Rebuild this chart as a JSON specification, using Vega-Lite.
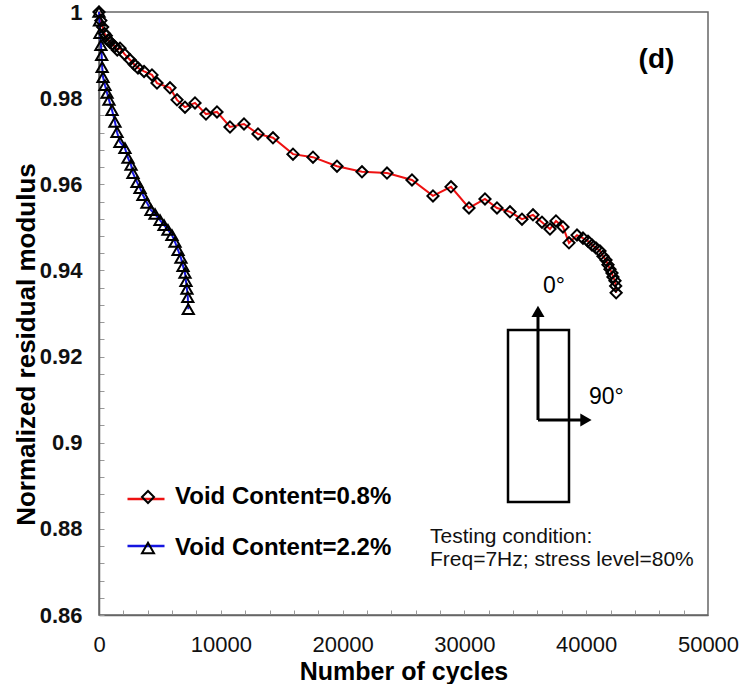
{
  "$schema": "https://vega.github.io/schema/vega-lite/v6.json",
  "width": 609,
  "height": 603,
  "autosize": "none",
  "padding": {"left": 99, "top": 12, "right": 42, "bottom": 69},
  "background": "white",
  "config": {
    "font": "Liberation Sans",
    "view": {"stroke": "#666", "strokeWidth": 1.5}
  },
  "datasets": {
    "curves": [
      {"series": "Void Content=0.8%", "cycles": 0, "modulus": 1.0},
      {"series": "Void Content=0.8%", "cycles": 150, "modulus": 0.998},
      {"series": "Void Content=0.8%", "cycles": 300, "modulus": 0.9965},
      {"series": "Void Content=0.8%", "cycles": 450, "modulus": 0.995},
      {"series": "Void Content=0.8%", "cycles": 600, "modulus": 0.9945},
      {"series": "Void Content=0.8%", "cycles": 750, "modulus": 0.9935},
      {"series": "Void Content=0.8%", "cycles": 900, "modulus": 0.993},
      {"series": "Void Content=0.8%", "cycles": 1100, "modulus": 0.9925},
      {"series": "Void Content=0.8%", "cycles": 1300, "modulus": 0.992},
      {"series": "Void Content=0.8%", "cycles": 1500, "modulus": 0.9912},
      {"series": "Void Content=0.8%", "cycles": 1724, "modulus": 0.9916},
      {"series": "Void Content=0.8%", "cycles": 2100, "modulus": 0.9902},
      {"series": "Void Content=0.8%", "cycles": 2545, "modulus": 0.9889},
      {"series": "Void Content=0.8%", "cycles": 2900, "modulus": 0.9878},
      {"series": "Void Content=0.8%", "cycles": 3202, "modulus": 0.987},
      {"series": "Void Content=0.8%", "cycles": 3700, "modulus": 0.9862},
      {"series": "Void Content=0.8%", "cycles": 4351, "modulus": 0.9854},
      {"series": "Void Content=0.8%", "cycles": 4762, "modulus": 0.9835},
      {"series": "Void Content=0.8%", "cycles": 5829, "modulus": 0.9824},
      {"series": "Void Content=0.8%", "cycles": 6404, "modulus": 0.9796},
      {"series": "Void Content=0.8%", "cycles": 7061, "modulus": 0.9779},
      {"series": "Void Content=0.8%", "cycles": 7882, "modulus": 0.9789},
      {"series": "Void Content=0.8%", "cycles": 8785, "modulus": 0.9763},
      {"series": "Void Content=0.8%", "cycles": 9688, "modulus": 0.9768},
      {"series": "Void Content=0.8%", "cycles": 10755, "modulus": 0.9733},
      {"series": "Void Content=0.8%", "cycles": 11905, "modulus": 0.974},
      {"series": "Void Content=0.8%", "cycles": 13054, "modulus": 0.9717},
      {"series": "Void Content=0.8%", "cycles": 14285, "modulus": 0.9708},
      {"series": "Void Content=0.8%", "cycles": 15927, "modulus": 0.967},
      {"series": "Void Content=0.8%", "cycles": 17569, "modulus": 0.9663},
      {"series": "Void Content=0.8%", "cycles": 19540, "modulus": 0.9642},
      {"series": "Void Content=0.8%", "cycles": 21592, "modulus": 0.9629},
      {"series": "Void Content=0.8%", "cycles": 23645, "modulus": 0.9626},
      {"series": "Void Content=0.8%", "cycles": 25697, "modulus": 0.961},
      {"series": "Void Content=0.8%", "cycles": 27421, "modulus": 0.9573},
      {"series": "Void Content=0.8%", "cycles": 28899, "modulus": 0.9594},
      {"series": "Void Content=0.8%", "cycles": 30377, "modulus": 0.9545},
      {"series": "Void Content=0.8%", "cycles": 31691, "modulus": 0.9566},
      {"series": "Void Content=0.8%", "cycles": 32676, "modulus": 0.9545},
      {"series": "Void Content=0.8%", "cycles": 33743, "modulus": 0.9536},
      {"series": "Void Content=0.8%", "cycles": 34728, "modulus": 0.9519},
      {"series": "Void Content=0.8%", "cycles": 35631, "modulus": 0.9529},
      {"series": "Void Content=0.8%", "cycles": 36370, "modulus": 0.9512},
      {"series": "Void Content=0.8%", "cycles": 37027, "modulus": 0.9496},
      {"series": "Void Content=0.8%", "cycles": 37520, "modulus": 0.9515},
      {"series": "Void Content=0.8%", "cycles": 38094, "modulus": 0.9501},
      {"series": "Void Content=0.8%", "cycles": 38587, "modulus": 0.9464},
      {"series": "Void Content=0.8%", "cycles": 39244, "modulus": 0.9482},
      {"series": "Void Content=0.8%", "cycles": 39736, "modulus": 0.9475},
      {"series": "Void Content=0.8%", "cycles": 40147, "modulus": 0.9468},
      {"series": "Void Content=0.8%", "cycles": 40475, "modulus": 0.9459},
      {"series": "Void Content=0.8%", "cycles": 40804, "modulus": 0.9452},
      {"series": "Void Content=0.8%", "cycles": 41132, "modulus": 0.9445},
      {"series": "Void Content=0.8%", "cycles": 41378, "modulus": 0.9433},
      {"series": "Void Content=0.8%", "cycles": 41625, "modulus": 0.9424},
      {"series": "Void Content=0.8%", "cycles": 41789, "modulus": 0.9413},
      {"series": "Void Content=0.8%", "cycles": 41953, "modulus": 0.9403},
      {"series": "Void Content=0.8%", "cycles": 42117, "modulus": 0.9394},
      {"series": "Void Content=0.8%", "cycles": 42199, "modulus": 0.9385},
      {"series": "Void Content=0.8%", "cycles": 42364, "modulus": 0.9376},
      {"series": "Void Content=0.8%", "cycles": 42420, "modulus": 0.9364},
      {"series": "Void Content=0.8%", "cycles": 42460, "modulus": 0.9348},
      {"series": "Void Content=2.2%", "cycles": 0, "modulus": 1.0},
      {"series": "Void Content=2.2%", "cycles": 40, "modulus": 0.998},
      {"series": "Void Content=2.2%", "cycles": 82, "modulus": 0.9951},
      {"series": "Void Content=2.2%", "cycles": 160, "modulus": 0.9923},
      {"series": "Void Content=2.2%", "cycles": 220, "modulus": 0.99},
      {"series": "Void Content=2.2%", "cycles": 260, "modulus": 0.9872},
      {"series": "Void Content=2.2%", "cycles": 330, "modulus": 0.9849},
      {"series": "Void Content=2.2%", "cycles": 490, "modulus": 0.983},
      {"series": "Void Content=2.2%", "cycles": 660, "modulus": 0.9812},
      {"series": "Void Content=2.2%", "cycles": 820, "modulus": 0.9796},
      {"series": "Void Content=2.2%", "cycles": 1070, "modulus": 0.9772},
      {"series": "Void Content=2.2%", "cycles": 1310, "modulus": 0.9745},
      {"series": "Void Content=2.2%", "cycles": 1480, "modulus": 0.9721},
      {"series": "Void Content=2.2%", "cycles": 1720, "modulus": 0.9698},
      {"series": "Void Content=2.2%", "cycles": 2130, "modulus": 0.9684},
      {"series": "Void Content=2.2%", "cycles": 2380, "modulus": 0.9661},
      {"series": "Void Content=2.2%", "cycles": 2630, "modulus": 0.9645},
      {"series": "Void Content=2.2%", "cycles": 2790, "modulus": 0.9626},
      {"series": "Void Content=2.2%", "cycles": 3120, "modulus": 0.9605},
      {"series": "Void Content=2.2%", "cycles": 3370, "modulus": 0.9591},
      {"series": "Void Content=2.2%", "cycles": 3610, "modulus": 0.9575},
      {"series": "Void Content=2.2%", "cycles": 3940, "modulus": 0.9557},
      {"series": "Void Content=2.2%", "cycles": 4270, "modulus": 0.954},
      {"series": "Void Content=2.2%", "cycles": 4600, "modulus": 0.9531},
      {"series": "Void Content=2.2%", "cycles": 5010, "modulus": 0.9517},
      {"series": "Void Content=2.2%", "cycles": 5340, "modulus": 0.9505},
      {"series": "Void Content=2.2%", "cycles": 5660, "modulus": 0.9494},
      {"series": "Void Content=2.2%", "cycles": 5990, "modulus": 0.9482},
      {"series": "Void Content=2.2%", "cycles": 6240, "modulus": 0.9466},
      {"series": "Void Content=2.2%", "cycles": 6490, "modulus": 0.9447},
      {"series": "Void Content=2.2%", "cycles": 6730, "modulus": 0.9429},
      {"series": "Void Content=2.2%", "cycles": 6900, "modulus": 0.941},
      {"series": "Void Content=2.2%", "cycles": 7060, "modulus": 0.9394},
      {"series": "Void Content=2.2%", "cycles": 7140, "modulus": 0.9375},
      {"series": "Void Content=2.2%", "cycles": 7220, "modulus": 0.9357},
      {"series": "Void Content=2.2%", "cycles": 7290, "modulus": 0.9338},
      {"series": "Void Content=2.2%", "cycles": 7330, "modulus": 0.931}
    ],
    "box": [{"cycles": 33580, "cycles_end": 38587, "modulus": 0.92617, "modulus_end": 0.88623}],
    "arrows": [
      {"cycles": 36042, "cycles_end": 36042, "modulus": 0.90527, "modulus_end": 0.9296},
      {"cycles": 36042, "cycles_end": 39650, "modulus": 0.90527, "modulus_end": 0.90527}
    ],
    "headUp": [{"cycles": 36042, "modulus": 0.9305}],
    "headRight": [{"cycles": 39980, "modulus": 0.90527}],
    "label": [{"cycles": 45771, "modulus": 0.98886, "note": "(d)"}],
    "angles": [
      {"cycles": 36452, "modulus": 0.93638, "note": "0°"},
      {"cycles": 40229, "modulus": 0.91061, "note": "90°"}
    ],
    "conditions": [
      {"cycles": 27175, "modulus": 0.8781, "note": "Testing condition:"},
      {"cycles": 27175, "modulus": 0.87277, "note": "Freq=7Hz; stress level=80%"}
    ]
  },
  "encoding": {
    "x": {
      "field": "cycles",
      "type": "quantitative",
      "scale": {"domain": [0, 50000], "nice": false, "zero": false},
      "axis": {
        "title": "Number of cycles",
        "titleFont": "Liberation Sans",
        "titleFontSize": 25,
        "titleFontWeight": "bold",
        "titleColor": "black",
        "titleBaseline": "alphabetic",
        "titleY": 64,
        "values": [0, 2000, 4000, 6000, 8000, 10000, 12000, 14000, 16000, 18000, 20000, 22000, 24000, 26000, 28000, 30000, 32000, 34000, 36000, 38000, 40000, 42000, 44000, 46000, 48000, 50000],
        "labelExpr": "datum.value % 10000 === 0 ? format(datum.value, 'd') : ''",
        "labelFont": "Liberation Sans",
        "labelFontSize": 22,
        "labelFontWeight": "normal",
        "labelColor": "#111",
        "labelFlush": false,
        "labelOverlap": false,
        "labelBaseline": "top",
        "labelPadding": 24,
        "tickSize": -5,
        "tickColor": "#999",
        "tickWidth": 1,
        "domainColor": "#666",
        "domainWidth": 1.5,
        "grid": false
      }
    },
    "y": {
      "field": "modulus",
      "type": "quantitative",
      "scale": {"domain": [0.86, 1.0], "nice": false, "zero": false},
      "axis": {
        "title": "Normalized  residual modulus",
        "titleFont": "Liberation Sans",
        "titleFontSize": 26,
        "titleFontWeight": "bold",
        "titleColor": "black",
        "titleAngle": -90,
        "titleAlign": "center",
        "titleBaseline": "middle",
        "titleX": -73,
        "titleY": 332,
        "values": [0.86, 0.864, 0.868, 0.872, 0.876, 0.88, 0.884, 0.888, 0.892, 0.896, 0.9, 0.904, 0.908, 0.912, 0.916, 0.92, 0.924, 0.928, 0.932, 0.936, 0.94, 0.944, 0.948, 0.952, 0.956, 0.96, 0.964, 0.968, 0.972, 0.976, 0.98, 0.984, 0.988, 0.992, 0.996, 1.0],
        "labelExpr": "abs(datum.value * 50 - round(datum.value * 50)) < 0.001 ? format(datum.value, '.2~f') : ''",
        "labelFont": "Liberation Sans",
        "labelFontSize": 22,
        "labelFontWeight": "bold",
        "labelColor": "#111",
        "labelFlush": false,
        "labelOverlap": false,
        "labelPadding": 22,
        "tickSize": -5,
        "tickColor": "#999",
        "tickWidth": 1,
        "domainColor": "#666",
        "domainWidth": 1.5,
        "grid": false
      }
    }
  },
  "layer": [
    {
      "data": {"name": "box"},
      "mark": {"type": "rect", "fill": "transparent", "stroke": "black", "strokeWidth": 2.5},
      "encoding": {"x2": {"field": "cycles_end"}, "y2": {"field": "modulus_end"}}
    },
    {
      "data": {"name": "arrows"},
      "mark": {"type": "rule", "color": "black", "strokeWidth": 3},
      "encoding": {"x2": {"field": "cycles_end"}, "y2": {"field": "modulus_end"}}
    },
    {
      "data": {"name": "headUp"},
      "mark": {"type": "point", "shape": "triangle-up", "filled": true, "color": "black", "size": 170, "opacity": 1},
      "encoding": {}
    },
    {
      "data": {"name": "headRight"},
      "mark": {"type": "point", "shape": "triangle-right", "filled": true, "color": "black", "size": 170, "opacity": 1},
      "encoding": {}
    },
    {
      "data": {"name": "curves"},
      "mark": {"type": "line", "strokeWidth": 2},
      "encoding": {
        "color": {
          "field": "series",
          "type": "nominal",
          "scale": {"domain": ["Void Content=0.8%", "Void Content=2.2%"], "range": ["#ee1111", "#1515e0"]},
          "legend": {
            "orient": "none",
            "legendX": 27,
            "legendY": 467,
            "title": null,
            "padding": 0,
            "symbolType": "stroke",
            "symbolSize": 1369,
            "symbolStrokeWidth": 2.5,
            "labelFontSize": 24,
            "labelExpr": "''",
            "labelOpacity": 0,
            "rowPadding": 15
          }
        }
      }
    },
    {
      "data": {"name": "curves"},
      "mark": {"type": "point", "filled": false, "color": "black", "strokeWidth": 2, "size": 125, "opacity": 1},
      "encoding": {
        "shape": {
          "field": "series",
          "type": "nominal",
          "scale": {"range": ["diamond", "triangle-up"]},
          "legend": {
            "orient": "none",
            "legendX": 37,
            "legendY": 473,
            "title": null,
            "padding": 0,
            "symbolSize": 144,
            "symbolStrokeWidth": 2,
            "symbolStrokeColor": "black",
            "symbolFillColor": "white",
            "labelFont": "Liberation Sans",
            "labelFontSize": 24,
            "labelFontWeight": "bold",
            "labelColor": "black",
            "labelOffset": 15,
            "labelLimit": 0,
            "rowPadding": 27,
            "encode": {"symbols": {"update": {"fill": {"value": "white"}, "stroke": {"value": "black"}, "opacity": {"value": 1}}}}
          }
        }
      }
    },
    {
      "data": {"name": "label"},
      "mark": {"type": "text", "font": "Liberation Sans", "fontSize": 28, "fontWeight": "bold", "align": "center", "baseline": "middle", "color": "black"},
      "encoding": {"text": {"field": "note"}}
    },
    {
      "data": {"name": "angles"},
      "mark": {"type": "text", "font": "Liberation Sans", "fontSize": 23, "align": "left", "baseline": "middle", "color": "black"},
      "encoding": {"text": {"field": "note"}}
    },
    {
      "data": {"name": "conditions"},
      "mark": {"type": "text", "font": "Liberation Sans", "fontSize": 21, "align": "left", "baseline": "middle", "color": "#111"},
      "encoding": {"text": {"field": "note"}}
    }
  ]
}
